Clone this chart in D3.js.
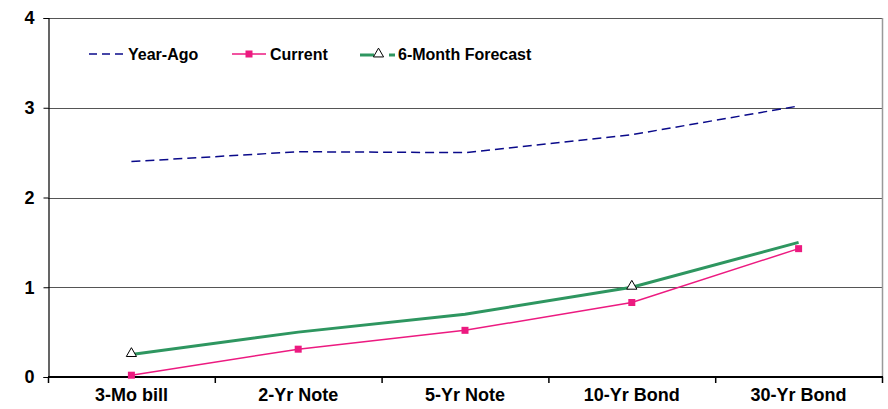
<!DOCTYPE html>
<html>
<head>
<meta charset="utf-8">
<script src="https://cdn.jsdelivr.net/npm/d3@7"></script>
<style>
  html, body { margin: 0; padding: 0; background: #fff; }
  svg { display: block; font-family: "Liberation Sans", Arial, sans-serif; }
</style>
</head>
<body>
<svg id="chart" width="888" height="409"></svg>
<script>
// Treasury yields by maturity (%)
const categories = ["3-Mo bill", "2-Yr Note", "5-Yr Note", "10-Yr Bond", "30-Yr Bond"];
const yearAgo = [2.40, 2.51, 2.50, 2.70, 3.02];
const current = [0.02, 0.31, 0.52, 0.83, 1.43];
const forecast = [0.25, 0.50, 0.70, 1.00, 1.50];
const forecastMarked = [true, false, false, true, false];
const yTicks = [0, 1, 2, 3, 4];

(function draw() {
  const svg = d3.select("#chart");
  const plotLeft = 48, plotRight = 882, plotTop = 18, plotBottom = 377;

  const x = d3.scaleBand().domain(categories).range([plotLeft, plotRight]);
  const y = d3.scaleLinear().domain([0, 4]).range([plotBottom, plotTop]);
  const cx = c => x(c) + x.bandwidth() / 2;

  // Horizontal gridlines
  svg.append("g").selectAll("line").data(yTicks.filter(t => t > 0)).join("line")
    .attr("x1", plotLeft).attr("x2", plotRight)
    .attr("y1", d => Math.round(y(d)) + 0.5).attr("y2", d => Math.round(y(d)) + 0.5)
    .attr("stroke", "#555").attr("stroke-width", 1);

  // Right border of plot
  svg.append("line").attr("x1", plotRight + 0.5).attr("x2", plotRight + 0.5)
    .attr("y1", plotTop).attr("y2", plotBottom).attr("stroke", "#999").attr("stroke-width", 1.5);

  // Y axis
  const yAxis = d3.axisLeft(y).tickValues(yTicks).tickFormat(d3.format("d")).tickSize(5).tickPadding(9);
  const gy = svg.append("g").attr("transform", `translate(${plotLeft + 0.5},0)`).call(yAxis);
  gy.select(".domain").attr("stroke", "#000").attr("stroke-width", 1.2);
  gy.selectAll(".tick line").attr("stroke", "#000");
  gy.selectAll(".tick text").attr("font-size", 18).attr("font-weight", "bold")
    .attr("fill", "#000").attr("font-family", "Liberation Sans, Arial, sans-serif");

  // X axis with ticks at category boundaries
  const gx = svg.append("g").attr("transform", `translate(0,${plotBottom})`);
  gx.append("line").attr("x1", plotLeft).attr("x2", plotRight + 1)
    .attr("stroke", "#000").attr("stroke-width", 2.2);
  const bounds = categories.map(c => x(c)).concat([plotRight]);
  gx.selectAll("line.tk").data(bounds).join("line").attr("class", "tk")
    .attr("x1", d => d + 0.5).attr("x2", d => d + 0.5).attr("y1", 0).attr("y2", 6)
    .attr("stroke", "#000").attr("stroke-width", 1.5);
  gx.selectAll("text").data(categories).join("text")
    .attr("x", d => cx(d)).attr("y", 24).attr("text-anchor", "middle")
    .attr("font-size", 18).attr("font-weight", "bold").attr("fill", "#000").text(d => d);

  const line = d3.line().x((d, i) => cx(categories[i])).y(d => y(d));

  // Year-Ago: navy dashed
  svg.append("path").datum(yearAgo).attr("d", line).attr("fill", "none")
    .attr("stroke", "#0a0a8a").attr("stroke-width", 1.5).attr("stroke-dasharray", "9,5");

  // 6-Month Forecast: thick green
  svg.append("path").datum(forecast).attr("d", line).attr("fill", "none")
    .attr("stroke", "#2e9660").attr("stroke-width", 3);

  // Current: pink with square markers
  svg.append("path").datum(current).attr("d", line).attr("fill", "none")
    .attr("stroke", "#ec1a80").attr("stroke-width", 1.5);
  svg.append("g").selectAll("rect").data(current).join("rect")
    .attr("x", (d, i) => cx(categories[i]) - 3.5).attr("y", d => y(d) - 3.5)
    .attr("width", 7).attr("height", 7).attr("fill", "#ec1a80");

  // Forecast triangle markers
  const tri = d3.symbol().type(d3.symbolTriangle).size(45);
  svg.append("g").selectAll("path").data(forecast.map((v, i) => ({ v, i })).filter(d => forecastMarked[d.i]))
    .join("path").attr("d", tri)
    .attr("transform", d => `translate(${cx(categories[d.i])},${y(d.v) - 1})`)
    .attr("fill", "#fff").attr("stroke", "#000").attr("stroke-width", 1);

  // Legend
  const lg = svg.append("g").attr("font-size", 16).attr("font-weight", "bold");
  const ly = 54;
  lg.append("line").attr("x1", 89).attr("x2", 125).attr("y1", ly).attr("y2", ly)
    .attr("stroke", "#0a0a8a").attr("stroke-width", 1.5).attr("stroke-dasharray", "8,5");
  lg.append("text").attr("x", 128).attr("y", ly + 6).text("Year-Ago");

  lg.append("line").attr("x1", 232).attr("x2", 266).attr("y1", ly).attr("y2", ly)
    .attr("stroke", "#ec1a80").attr("stroke-width", 1.5);
  lg.append("rect").attr("x", 245.5).attr("y", ly - 3.5).attr("width", 7).attr("height", 7).attr("fill", "#ec1a80");
  lg.append("text").attr("x", 270).attr("y", ly + 6).text("Current");

  lg.append("line").attr("x1", 360).attr("x2", 374).attr("y1", ly + 1).attr("y2", ly + 1)
    .attr("stroke", "#2e9660").attr("stroke-width", 3);
  lg.append("path").attr("d", tri).attr("transform", `translate(378.5,${ly})`)
    .attr("fill", "#fff").attr("stroke", "#000").attr("stroke-width", 1);
  lg.append("line").attr("x1", 389).attr("x2", 395).attr("y1", ly + 1).attr("y2", ly + 1)
    .attr("stroke", "#2e9660").attr("stroke-width", 3);
  lg.append("text").attr("x", 398).attr("y", ly + 6).text("6-Month Forecast");
})();
</script>
</body>
</html>
